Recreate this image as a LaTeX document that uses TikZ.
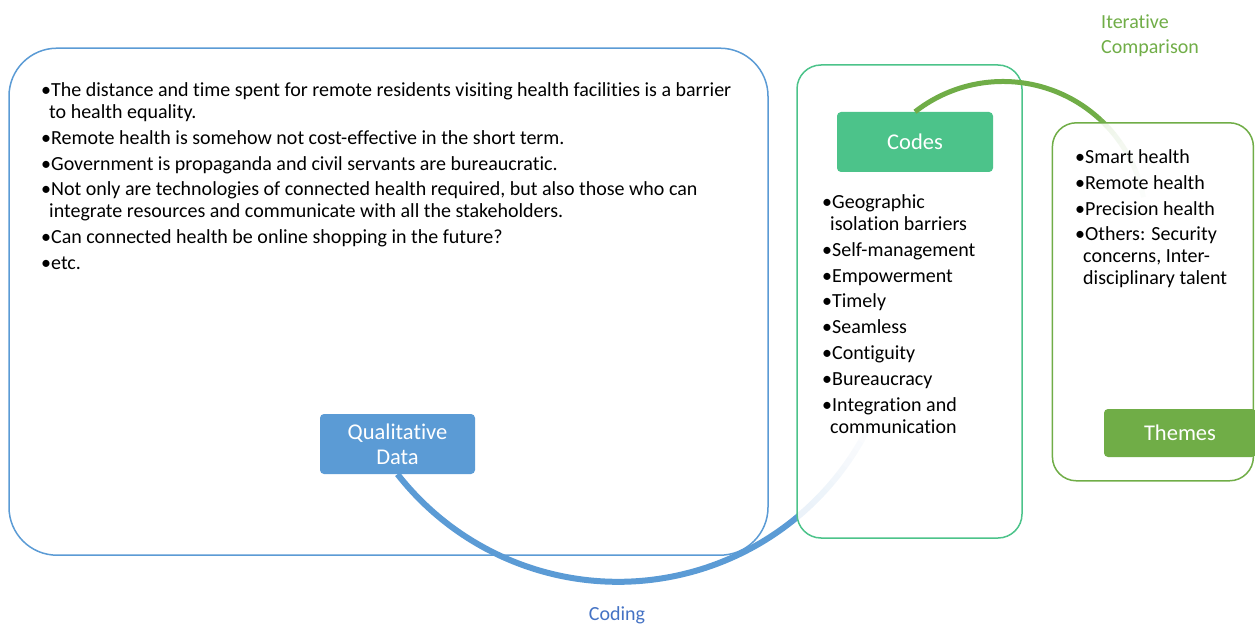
\documentclass[tikz,border=0pt]{standalone}
\usepackage{fontspec}
\setmainfont{Carlito}[Ligatures=NoCommon]
\usepackage{xcolor}
\usetikzlibrary{calc}
\definecolor{dataBlue}{HTML}{5B9BD5}
\definecolor{codingBlue}{HTML}{4472C4}
\definecolor{codeGreen}{HTML}{4CC38A}
\definecolor{themeGreen}{HTML}{70AD47}
\newcommand{\bitem}[1]{\par\hangindent=0.4em\hangafter=1\textbullet#1\par}
\tikzset{
	panel/.style={
			draw=#1, line width=1.5pt, fill=white, fill opacity=0.88, text opacity=1
		},
	tag/.style={
			fill=#1, rounded corners=4pt, text=white, align=center,
			font=\fontsize{22.5}{25}\selectfont
		},
	bullets/.style={
			anchor=north west, inner sep=0pt, text width=#1, align=flush left,
			font=\fontsize{20}{22}\selectfont,
			execute at begin node={\setlength{\parindent}{0pt}\setlength{\parskip}{3.8pt}}
		},
	note/.style={
			inner sep=0pt, align=left, font=\fontsize{20}{25}\selectfont
		},
	bend/.style={draw=#1, line width=6pt}
}

\begin{document}
\begin{tikzpicture}[x=1pt, y=1pt]%[baseline={(current bounding box.center)}]
	\useasboundingbox (0,0) rectangle (1255,625);

	\node[panel=dataBlue, fill opacity=1, rounded corners=48pt, minimum width=759pt, minimum height=507pt] (dataPanel) at (388.5,323.3) {};
	\node[bullets=740pt] (dataList) at (41,554.5) {
		\bitem{The distance and time spent for remote residents visiting health facilities is a barrier\newline to health equality.}
		\bitem{Remote health is somehow not cost-effective in the short term.}
		\bitem{Government is propaganda and civil servants are bureaucratic.}
		\bitem{Not only are technologies of connected health required, but also those who can\newline integrate resources and communicate with all the stakeholders.}
		\bitem{Can connected health be online shopping in the future?}
		\bitem{etc.}};
	\node[tag=dataBlue, minimum width=155pt, minimum height=60pt] (qualData) at (397.5,181) {Qualitative\\Data};

	% coding arc, fading out under the codes panel
	\coordinate (codingC) at ($(qualData.south)+(38:280pt)$);
	\draw[bend=dataBlue] (qualData.south) arc[start angle=218, end angle=314, radius=280pt];
	\foreach \k [evaluate=\k as \op using 0.95-0.09*\k] in {0,...,9}
		\draw[bend=dataBlue, draw opacity=\op] ($(codingC)+({314+2*\k}:280pt)$) arc[start angle=314+2*\k, end angle=316+2*\k, radius=280pt];

	\node[panel=codeGreen, rounded corners=24pt, minimum width=225pt, minimum height=473pt] (codePanel) at (909.5,323.5) {};
	\node[tag=codeGreen, minimum width=156pt, minimum height=60pt] (codes) at (915,483) {Codes};
	\node[bullets=190pt] (codeList) at (822,442.5) {
		\bitem{Geographic\newline isolation barriers}
		\bitem{Self-management}
		\bitem{Empowerment}
		\bitem{Timely}
		\bitem{Seamless}
		\bitem{Contiguity}
		\bitem{Bureaucracy}
		\bitem{Integration and\newline communication}};

	% comparison arc, fading out under the themes panel
	\coordinate (compareC) at ($(codes.north)+(-52:143pt)$);
	\draw[bend=themeGreen, line width=5pt] (codes.north) arc[start angle=128, end angle=47, radius=143pt];
	\foreach \k [evaluate=\k as \op using 0.95-0.1*\k] in {0,...,8}
		\draw[bend=themeGreen, line width=5pt, draw opacity=\op] ($(compareC)+({47-4*\k}:143pt)$) arc[start angle=47-4*\k, end angle=43-4*\k, radius=143pt];

	\node[panel=themeGreen, rounded corners=24pt, minimum width=201pt, minimum height=358pt] (themePanel) at (1152.9,323.2) {};
	\node[bullets=172pt] (themeList) at (1075,487.5) {
		\bitem{Smart health}
		\bitem{Remote health}
		\bitem{Precision health}
		\bitem{Others: Security\newline concerns, Inter-\newline disciplinary talent}};
	\node[tag=themeGreen, minimum width=152pt, minimum height=48pt] (themes) at (1180,192) {Themes};

	\node[note, text=themeGreen, anchor=north west] (iterLabel) at (1101,610) {Iterative\\Comparison};
	\node[note, text=codingBlue, anchor=base] (codingLabel) at (617,5) {Coding};
\end{tikzpicture}
\end{document}
